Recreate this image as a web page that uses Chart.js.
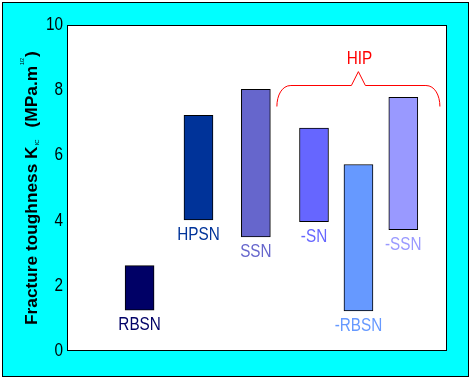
<!DOCTYPE html>
<html>
<head>
<meta charset="utf-8">
<script src="https://cdn.jsdelivr.net/npm/chart.js@4/dist/chart.umd.min.js"></script>
<style>
  html, body { margin: 0; padding: 0; background: #fff; }
  canvas { display: block; }
</style>
</head>
<body>
<canvas id="chart" width="470" height="378"></canvas>
<script>
// Fracture toughness ranges of silicon nitride grades, drawn as floating bars.
const materials = ['RBSN', 'HPSN', 'SSN', '-SN', '-RBSN', '-SSN'];
const positions = [19.1, 34.6, 49.7, 65.0, 76.7, 88.5];   // x slot of each bar (0..100)
const lowValues = [1.25, 4.02, 3.5, 3.97, 1.23, 3.72];
const highValues = [2.62, 7.23, 8.03, 6.84, 5.72, 7.78];
const yTicks = [0, 2, 4, 6, 8, 10];

const hipLabel = 'HIP';
const hipSpan = [55.1, 98.0];       // x range covered by the brace
const hipLevels = [7.5, 8.16, 8.57]; // brace ends, brace line, brace tip

const barColours = ['#000066', '#003399', '#6666CC', '#6666FF', '#6699FF', '#9999FF'];
const SANS = '"Liberation Sans", Arial, sans-serif';
const SQUEEZE = 0.85; // the original type is a condensed sans

// draw text squeezed horizontally, anchored at (x, y)
function narrowText(ctx, text, x, y, align) {
  ctx.save();
  ctx.translate(x, y);
  ctx.scale(SQUEEZE, 1);
  ctx.textAlign = align;
  ctx.fillText(text, 0, 0);
  ctx.restore();
}

const frame = {
  id: 'frame',
  beforeDraw(chart) {
    const { ctx, chartArea: a } = chart;
    ctx.save();
    ctx.fillStyle = '#ffffff';
    ctx.fillRect(0, 0, chart.width, chart.height);
    ctx.fillStyle = '#00FFFF';
    ctx.fillRect(2, 2, 467, 375);
    ctx.strokeStyle = '#000';
    ctx.lineWidth = 1;
    ctx.strokeRect(2.5, 2.5, 466, 374);
    ctx.fillStyle = '#ffffff';
    ctx.fillRect(a.left, a.top, a.right - a.left, a.bottom - a.top);
    ctx.strokeRect(a.left + 0.5, a.top + 0.5, a.right - a.left - 1, a.bottom - a.top - 1);
    ctx.restore();
  },
  afterDraw(chart) {
    const { ctx } = chart;
    const x = chart.scales.x, y = chart.scales.y;
    ctx.save();

    // y tick labels
    ctx.font = '18px ' + SANS;
    ctx.fillStyle = '#000';
    ctx.textBaseline = 'middle';
    yTicks.forEach(v => narrowText(ctx, String(v), chart.chartArea.left - 4, y.getPixelForValue(v), 'right'));

    // labels under each bar, in the bar's colour
    ctx.textBaseline = 'top';
    materials.forEach((m, i) => {
      ctx.fillStyle = barColours[i];
      narrowText(ctx, m, x.getPixelForValue(positions[i]), y.getPixelForValue(lowValues[i]) + 6, 'center');
    });

    // HIP brace
    const l = x.getPixelForValue(hipSpan[0]) + 0.5;
    const r = x.getPixelForValue(hipSpan[1]) + 0.5;
    const m = (l + r) / 2;
    const yEnd = y.getPixelForValue(hipLevels[0]);
    const yLine = Math.round(y.getPixelForValue(hipLevels[1])) + 0.5;
    const yTip = y.getPixelForValue(hipLevels[2]);
    ctx.strokeStyle = '#FF0000';
    ctx.lineWidth = 1;
    ctx.beginPath();
    ctx.moveTo(l, yEnd);
    ctx.bezierCurveTo(l, yLine + 10, l + 5, yLine, l + 14, yLine);
    ctx.lineTo(m - 7, yLine);
    ctx.lineTo(m, yTip);
    ctx.lineTo(m + 7, yLine);
    ctx.lineTo(r - 14, yLine);
    ctx.bezierCurveTo(r - 5, yLine, r, yLine + 10, r, yEnd);
    ctx.stroke();
    ctx.fillStyle = '#FF0000';
    ctx.textBaseline = 'bottom';
    narrowText(ctx, hipLabel, m + 1, yTip - 4, 'center');

    // rotated y-axis title with tiny sub/superscripts
    ctx.translate(37, 325);
    ctx.rotate(-Math.PI / 2);
    ctx.fillStyle = '#000';
    ctx.textAlign = 'left';
    ctx.textBaseline = 'alphabetic';
    let cx = 0;
    const part = (t, font, dy, gap) => {
      ctx.font = font;
      ctx.fillText(t, cx, dy);
      cx += ctx.measureText(t).width + (gap || 0);
    };
    const main = 'bold 17.3px ' + SANS;
    part('Fracture toughness K', main, 0, 1);
    part('IC', '6px ' + SANS, 2, 12);
    part('(MPa.m', main, 0, 1);
    part('1/2', '5px ' + SANS, -13, 1);
    part(')', main, 0);
    ctx.restore();
  }
};

new Chart(document.getElementById('chart'), {
  type: 'bar',
  data: {
    datasets: [{
      data: materials.map((_, i) => ({ x: positions[i], y: [lowValues[i], highValues[i]] })),
      backgroundColor: barColours,
      borderColor: '#000',
      borderWidth: 1,
      borderSkipped: false,
      barThickness: 29,
    }],
  },
  options: {
    responsive: false,
    animation: false,
    devicePixelRatio: 1,
    layout: { padding: { left: 0, top: 25, right: 23, bottom: 27 } },
    plugins: { legend: { display: false }, tooltip: { enabled: false } },
    scales: {
      x: { type: 'linear', min: 0, max: 100, display: false, offset: false },
      y: {
        min: 0, max: 10,
        afterFit: (s) => { s.width = 67; },
        afterBuildTicks: (s) => { s.ticks = yTicks.map(v => ({ value: v })); },
        grid: { display: false, drawTicks: false },
        border: { display: false },
        ticks: { display: false },
      },
    },
  },
  plugins: [frame],
});
</script>
</body>
</html>
